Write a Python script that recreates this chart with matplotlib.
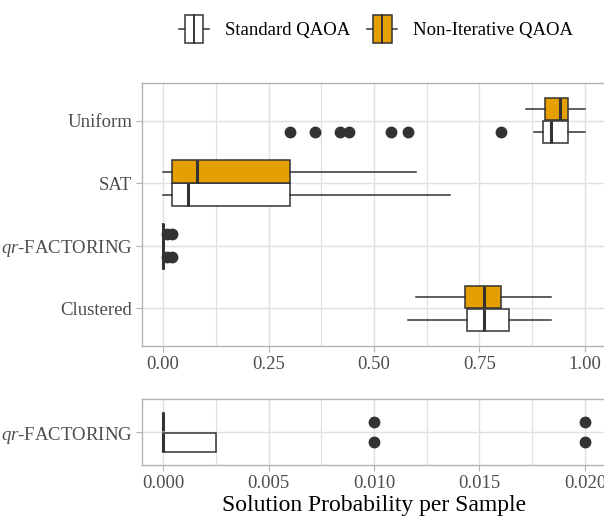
import matplotlib
matplotlib.use("Agg")
import matplotlib.pyplot as plt
from matplotlib.patches import Rectangle
from matplotlib.lines import Line2D
from matplotlib.legend_handler import HandlerBase
from matplotlib.ticker import MultipleLocator, FormatStrFormatter

plt.rcParams['font.family'] = ['Liberation Serif', 'DejaVu Serif']
plt.rcParams['mathtext.fontset'] = 'custom'
plt.rcParams['mathtext.rm'] = 'Liberation Serif'
plt.rcParams['mathtext.it'] = 'Liberation Serif:italic'

# data, top to bottom
groups = ['Uniform', 'SAT', '$qr$-FACTORING', 'Clustered']

std_whislo = [0.88, 0.0, 0.0, 0.58]
std_q1 = [0.90, 0.02, 0.0, 0.72]
std_med = [0.92, 0.06, 0.0, 0.76]
std_q3 = [0.96, 0.30, 0.0025, 0.82]
std_whishi = [1.0, 0.68, 0.0025, 0.92]
std_fliers = [[0.30, 0.36, 0.42, 0.44, 0.54, 0.58, 0.80], [], [0.01, 0.02], []]

ni_whislo = [0.86, 0.0, 0.0, 0.60]
ni_q1 = [0.905, 0.02, 0.0, 0.715]
ni_med = [0.94, 0.08, 0.0, 0.76]
ni_q3 = [0.96, 0.30, 0.0, 0.80]
ni_whishi = [1.0, 0.60, 0.0, 0.92]
ni_fliers = [[], [], [0.01, 0.02], []]

zoom_group = '$qr$-FACTORING'

ORANGE = '#E69F00'
EDGE = '#333333'
GRID = '#e0e0e0'
BORDER = '#b3b3b3'
TXT = '#4d4d4d'


def make_stats(wl, q1, med, q3, wh, fl):
    return [dict(whislo=a, q1=b, med=c, q3=d, whishi=e, fliers=f)
            for a, b, c, d, e, f in zip(wl, q1, med, q3, wh, fl)]


std_stats = make_stats(std_whislo, std_q1, std_med, std_q3, std_whishi, std_fliers)
ni_stats = make_stats(ni_whislo, ni_q1, ni_med, ni_q3, ni_whishi, ni_fliers)


def draw_boxes(ax, stats, positions, color):
    ax.bxp(stats, positions=positions, widths=0.36, orientation='horizontal',
           patch_artist=True, showcaps=False,
           boxprops=dict(facecolor=color, edgecolor=EDGE, linewidth=1.1),
           medianprops=dict(color=EDGE, linewidth=2.2),
           whiskerprops=dict(color=EDGE, linewidth=1.1),
           flierprops=dict(marker='o', markerfacecolor=EDGE, markeredgecolor=EDGE,
                           markersize=7.5))


def style_axes(ax):
    ax.set_axisbelow(True)
    ax.grid(True, which='major', color=GRID, linewidth=1.0)
    ax.grid(True, which='minor', axis='x', color=GRID, linewidth=0.9)
    for s in ax.spines.values():
        s.set_color(BORDER)
        s.set_linewidth(1.0)
    ax.tick_params(axis='both', which='major', color=BORDER, length=4, width=0.8,
                   labelcolor=TXT, labelsize=13.5, pad=3)
    ax.tick_params(axis='both', which='minor', length=0)


fig = plt.figure(figsize=(6.04, 5.24), dpi=100)

# main panel
ax1 = fig.add_axes([142 / 604, 1 - 346 / 524, 464 / 604, 263 / 524])
n = len(groups)
ypos = [n - i for i in range(n)]
draw_boxes(ax1, std_stats, [y - 0.183 for y in ypos], 'white')
draw_boxes(ax1, ni_stats, [y + 0.183 for y in ypos], ORANGE)
ax1.set_ylim(0.4, n + 0.6)
ax1.set_yticks(ypos)
ax1.set_yticklabels(groups)
ax1.set_xlim(-0.05, 1.05)
ax1.xaxis.set_major_locator(MultipleLocator(0.25))
ax1.xaxis.set_minor_locator(MultipleLocator(0.125))
ax1.xaxis.set_major_formatter(FormatStrFormatter('%.2f'))
style_axes(ax1)

# zoomed panel for qr-FACTORING
k = groups.index(zoom_group)
ax2 = fig.add_axes([142 / 604, 1 - 465 / 524, 464 / 604, 66 / 524])
draw_boxes(ax2, [std_stats[k]], [1 - 0.19], 'white')
draw_boxes(ax2, [ni_stats[k]], [1 + 0.19], ORANGE)
ax2.set_ylim(0.4, 1.6)
ax2.set_yticks([1])
ax2.set_yticklabels([zoom_group])
ax2.set_xlim(-0.001, 0.021)
ax2.xaxis.set_major_locator(MultipleLocator(0.005))
ax2.xaxis.set_minor_locator(MultipleLocator(0.0025))
ax2.xaxis.set_major_formatter(FormatStrFormatter('%.3f'))
style_axes(ax2)
ax2.set_xlabel('Solution Probability per Sample', fontsize=17, color='black', labelpad=2)


class BoxHandler(HandlerBase):
    def __init__(self, color):
        super().__init__()
        self.color = color

    def create_artists(self, legend, orig_handle, xdescent, ydescent, width, height,
                       fontsize, trans):
        bw = width * 0.63
        x0 = (width - bw) / 2 - xdescent
        y0 = -ydescent
        cy = y0 + height / 2
        whisk = Line2D([-xdescent, width - xdescent], [cy, cy], color=EDGE, lw=1.1,
                       transform=trans)
        box = Rectangle((x0, y0), bw, height, facecolor=self.color, edgecolor=EDGE,
                        lw=1.1, transform=trans)
        mid = Line2D([x0 + bw / 2, x0 + bw / 2], [y0, y0 + height], color=EDGE, lw=1.4,
                     transform=trans)
        return [whisk, box, mid]


h_std = Rectangle((0, 0), 1, 1)
h_ni = Rectangle((0, 0), 1, 1)
fig.legend([h_std, h_ni], ['Standard QAOA', 'Non-Iterative QAOA'],
           handler_map={h_std: BoxHandler('white'), h_ni: BoxHandler(ORANGE)},
           loc='center', bbox_to_anchor=(376 / 604, 1 - 29 / 524), ncol=2,
           frameon=False, fontsize=13.5, handlelength=1.6, handleheight=1.9,
           handletextpad=0.85, columnspacing=0.9)

fig.savefig('out.png', dpi=100)
